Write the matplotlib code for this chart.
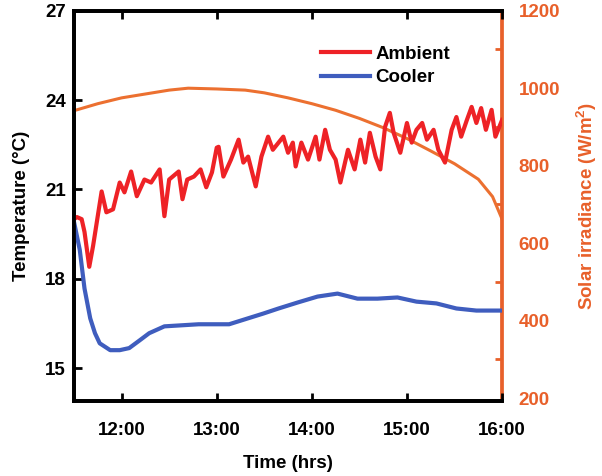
import numpy as np
import matplotlib
matplotlib.use('Agg')
import matplotlib.pyplot as plt

plt.rcParams['font.family'] = ['Liberation Sans', 'DejaVu Sans']
plt.rcParams['font.weight'] = 'bold'
plt.rcParams['axes.labelweight'] = 'bold'

# Ambient temperature, time in decimal hours
amb_t = [11.50, 11.53, 11.58, 11.61, 11.66, 11.70, 11.79, 11.84, 11.91, 11.98,
         12.03, 12.10, 12.16, 12.24, 12.31, 12.40, 12.45, 12.50, 12.60, 12.64,
         12.69, 12.76, 12.83, 12.89, 12.95, 13.00, 13.02, 13.07, 13.15, 13.23,
         13.28, 13.33, 13.41, 13.47, 13.54, 13.59, 13.70, 13.75, 13.80, 13.83,
         13.89, 13.96, 14.04, 14.08, 14.14, 14.19, 14.25, 14.30, 14.38, 14.45,
         14.51, 14.56, 14.61, 14.67, 14.72, 14.77, 14.82, 14.86, 14.93, 15.00,
         15.05, 15.10, 15.16, 15.21, 15.28, 15.33, 15.40, 15.47, 15.52, 15.57,
         15.63, 15.68, 15.73, 15.78, 15.83, 15.89, 15.93, 16.00]
amb_T = [20.0, 20.07, 20.0, 19.57, 18.4, 19.1, 20.93, 20.23, 20.33, 21.23,
         20.9, 21.6, 20.77, 21.33, 21.23, 21.67, 20.1, 21.33, 21.6, 20.67,
         21.33, 21.43, 21.67, 21.07, 21.57, 22.4, 22.43, 21.43, 22.0, 22.67,
         21.9, 22.1, 21.1, 22.1, 22.77, 22.33, 22.77, 22.23, 22.57, 21.77,
         22.57, 22.0, 22.77, 22.0, 23.0, 22.33, 22.0, 21.23, 22.33, 21.67,
         22.67, 21.9, 22.9, 22.1, 21.67, 23.1, 23.57, 22.9, 22.23, 23.23,
         22.57, 23.0, 23.23, 22.67, 23.0, 22.33, 21.9, 23.0, 23.43, 22.77,
         23.33, 23.77, 23.23, 23.73, 23.0, 23.67, 22.77, 23.33]

# Cooler temperature
cool_t = [11.50, 11.56, 11.61, 11.67, 11.72, 11.77, 11.88, 11.98, 12.08, 12.19,
          12.29, 12.45, 12.81, 13.13, 13.33, 13.49, 13.65, 13.85, 14.06, 14.27,
          14.48, 14.69, 14.90, 15.10, 15.31, 15.52, 15.73, 16.00]
cool_T = [19.9, 18.97, 17.67, 16.67, 16.17, 15.83, 15.6, 15.6, 15.67, 15.93,
          16.17, 16.4, 16.47, 16.47, 16.67, 16.83, 17.0, 17.2, 17.4, 17.5,
          17.33, 17.33, 17.37, 17.23, 17.17, 17.0, 16.93, 16.93]

# Solar irradiance (W/m2)
sol_t = [11.5, 11.75, 12.0, 12.25, 12.5, 12.7, 13.0, 13.3, 13.5, 13.75,
         14.0, 14.25, 14.5, 14.75, 15.0, 15.25, 15.5, 15.75, 15.9, 16.0]
sol_I = [942, 960, 975, 985, 995, 1000, 998, 995, 988, 975,
         960, 943, 922, 898, 870, 838, 805, 765, 720, 662]

xticks = [12, 13, 14, 15, 16]
xlabels = ['12:00', '13:00', '14:00', '15:00', '16:00']

red = '#EE2226'
blue = '#3F5DBE'
orange_line = '#EC7030'
orange = '#E8602A'

fig = plt.figure(figsize=(6.02, 4.76), dpi=100)
ax = fig.add_axes([0.123, 0.158, 0.711, 0.8195])
ax2 = ax.twinx()
ax.set_zorder(2)
ax.patch.set_visible(False)

ax2.plot(sol_t, sol_I, color=orange_line, lw=2.2)
ax.plot(amb_t, amb_T, color=red, lw=3.0, label='Ambient')
ax.plot(cool_t, cool_T, color=blue, lw=3.0, label='Cooler')

ax.set_xlim(11.5, 16)
ax.set_ylim(13.9, 27)
ax2.set_ylim(193, 1200)

ax.set_xticks(xticks)
ax.set_xticklabels(xlabels)
ax.set_yticks([15, 18, 21, 24, 27])
ax2.set_yticks([200, 400, 600, 800, 1000, 1200])
ax2.set_yticks([300, 500, 700, 900, 1100], minor=True)

ax.tick_params(axis='x', direction='in', length=6, width=2, labelsize=13.5, pad=15, top=True)
ax.tick_params(axis='y', direction='in', length=6, width=2, labelsize=13.5, pad=6)
ax2.tick_params(axis='y', which='major', length=0, labelsize=13.5, pad=12, labelcolor=orange)
ax2.tick_params(axis='y', which='minor', direction='in', length=5, width=2, color=orange)

for s in ['left', 'top', 'bottom']:
    ax.spines[s].set_linewidth(2.7)
    ax2.spines[s].set_linewidth(2.7)
ax.spines['right'].set_visible(False)
ax2.spines['right'].set_color(orange)
ax2.spines['right'].set_linewidth(2.7)

ax.set_xlabel('Time (hrs)', fontsize=13.5, labelpad=12)
ax.set_ylabel('Temperature (°C)', fontsize=13.5, labelpad=11)
ax2.set_ylabel('Solar irradiance (W/m$^\\mathregular{2}$)', fontsize=13.5, color=orange, labelpad=10)

ax.legend(loc='upper left', bbox_to_anchor=(0.56, 0.93), frameon=False, fontsize=13.5,
          handlelength=2.6, handletextpad=0.3, labelspacing=0.35, borderaxespad=0)

fig.savefig('out.png', dpi=100)
